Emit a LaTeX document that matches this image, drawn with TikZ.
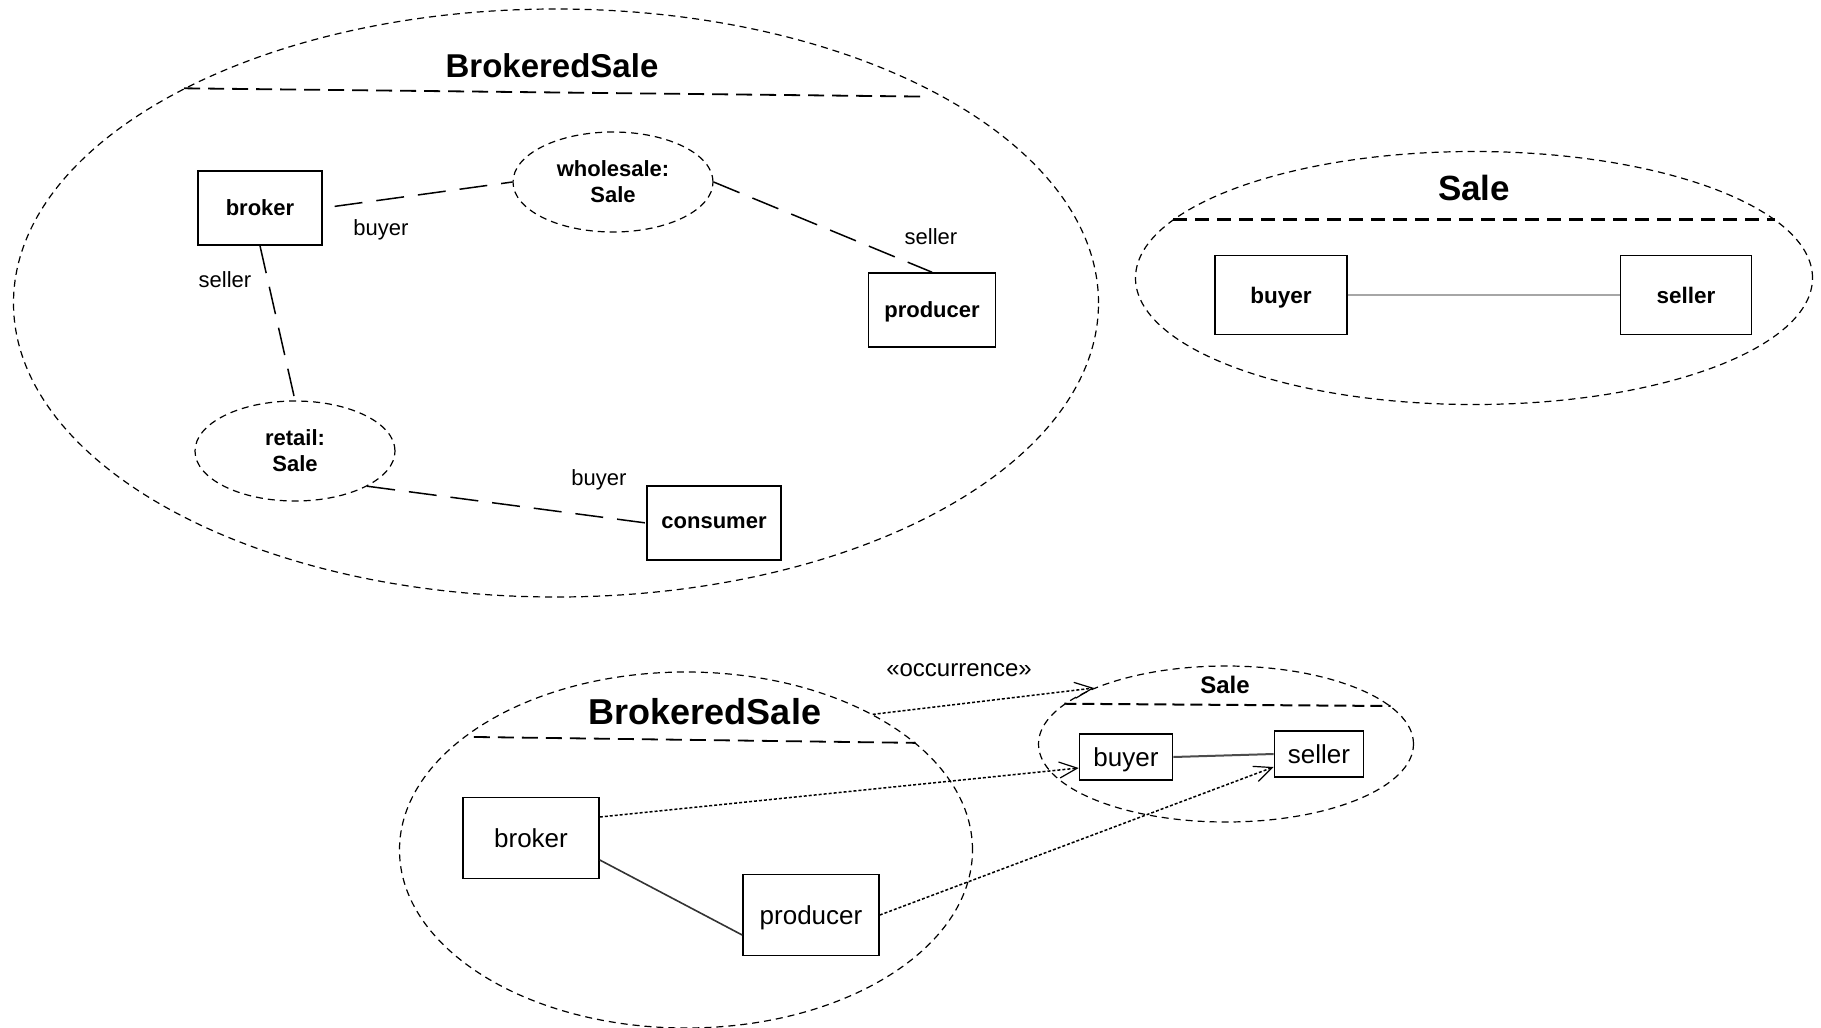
\documentclass[tikz,border=0pt]{standalone}
\usepackage{fontspec}
\setmainfont{Liberation Sans}
\usetikzlibrary{shapes.geometric,arrows.meta}
\newcommand{\setfs}[1]{\fontsize{#1}{26}\selectfont}

\begin{document}
\begin{tikzpicture}[x=1pt,y=-1pt]
  \tikzstyle{collab}=[ellipse,draw,dash pattern=on 7pt off 5pt,line width=1.2pt,inner sep=0pt]
  \tikzstyle{partbox}=[rectangle,draw,line width=1.6pt,inner sep=0pt,minimum height=74pt,text depth=0pt]
  \tikzstyle{roleline}=[draw,line width=1.5pt,dash pattern=on 28pt off 14pt]
  \tikzstyle{divider}=[line width=1.8pt,dash pattern=on 16pt off 8pt]
  \tikzstyle{binding}=[line width=1.5pt,dash pattern=on 3pt off 2pt,-{Straight Barb[length=18pt,width=16pt,line width=1.2pt]}]
  \tikzstyle{rolename}=[font=\setfs{22}]
  \useasboundingbox (0,0) rectangle (1821,1028);

  % BrokeredSale collaboration
  \node[collab,minimum width=1085pt,minimum height=588pt] (bsale) at (556,303) {};
  \node[font=\bfseries\setfs{33}] (bsaletitle) at (552,66) {BrokeredSale};
  \draw[divider,shorten >=16pt] (bsale.150) -- (bsale.28.5);
  \node[partbox,minimum width=124pt,font=\bfseries\setfs{22}] (broker) at (260,208) {broker};
  \node[collab,minimum width=200pt,minimum height=100pt,align=center,font=\bfseries\setfs{22}] (wholesale) at (613,182) {wholesale:\\Sale};
  \node[partbox,minimum width=127pt,font=\bfseries\setfs{22}] (producer) at (932,310) {producer};
  \node[collab,minimum width=200pt,minimum height=100pt,align=center,font=\bfseries\setfs{22}] (retail) at (295,451) {retail:\\Sale};
  \node[partbox,minimum width=134pt,font=\bfseries\setfs{22}] (consumer) at (714,523) {consumer};
  \draw[roleline,shorten <=12pt] (broker.east) -- (wholesale.west);
  \draw[roleline] (wholesale.east) -- (producer.north);
  \draw[roleline] (broker.south) -- (retail.north);
  \draw[roleline] (retail.-26) -- (consumer.west);
  \node[rolename] (lbuyer1) at (381,230) {buyer};
  \node[rolename] (lseller1) at (931,237) {seller};
  \node[rolename] (lseller2) at (225,280) {seller};
  \node[rolename] (lbuyer2) at (599,480) {buyer};

  % Sale collaboration
  \node[collab,minimum width=677pt,minimum height=253pt] (sale) at (1474,278) {};
  \node[font=\bfseries\setfs{35}] (saletitle) at (1474,188) {Sale};
  \draw[divider,line width=2.4pt,dash pattern=on 14pt off 8pt] (sale.169) -- (sale.11);
  \node[partbox,minimum width=132pt,minimum height=79pt,font=\bfseries\setfs{22.5}] (buyer) at (1281,295) {buyer};
  \node[partbox,minimum width=131pt,minimum height=79pt,font=\bfseries\setfs{22.5}] (seller) at (1686,295) {seller};
  \draw[gray!70,line width=2pt] (buyer) -- (seller);

  % occurrence of Sale in BrokeredSale
  \node[collab,minimum width=573pt,minimum height=356pt] (bsale2) at (686,850) {};
  \node[font=\bfseries\setfs{36}] (bsaletitle2) at (705,712) {BrokeredSale};
  \draw[divider,shorten <=10pt] (bsale2.153.5) -- (bsale2.25);
  \node[partbox,minimum width=136pt,minimum height=81pt,font=\setfs{26}] (broker2) at (531,838) {broker};
  \node[partbox,minimum width=136pt,minimum height=81pt,font=\setfs{26}] (producer2) at (811,915) {producer};
  \draw[line width=1.6pt,black!80] ([yshift=-22pt]broker2.east) -- ([yshift=-20pt]producer2.west);

  \node[collab,minimum width=375pt,minimum height=156pt] (sale2) at (1226,744) {};
  \node[font=\bfseries\setfs{24}] (saletitle2) at (1225,685) {Sale};
  \draw[divider,line width=2pt,dash pattern=on 12pt off 6pt] (sale2.166.6) -- (sale2.13.2);
  \node[partbox,minimum width=93pt,minimum height=46pt,font=\setfs{26}] (buyer2) at (1126,757) {buyer};
  \node[partbox,minimum width=89pt,minimum height=46pt,font=\setfs{26}] (seller2) at (1319,754) {seller};
  \draw[line width=2pt,black!70] (buyer2.east) -- (seller2.west);

  \draw[binding] (bsale2.36) -- (sale2.157);
  \node[font=\setfs{24}] (occlabel) at (959,670) {«occurrence»};
  \draw[binding] ([yshift=21pt]broker2.east) -- ([yshift=-11pt]buyer2.west);
  \draw[binding] (producer2.east) -- ([yshift=-13pt]seller2.west);
\end{tikzpicture}
\end{document}
